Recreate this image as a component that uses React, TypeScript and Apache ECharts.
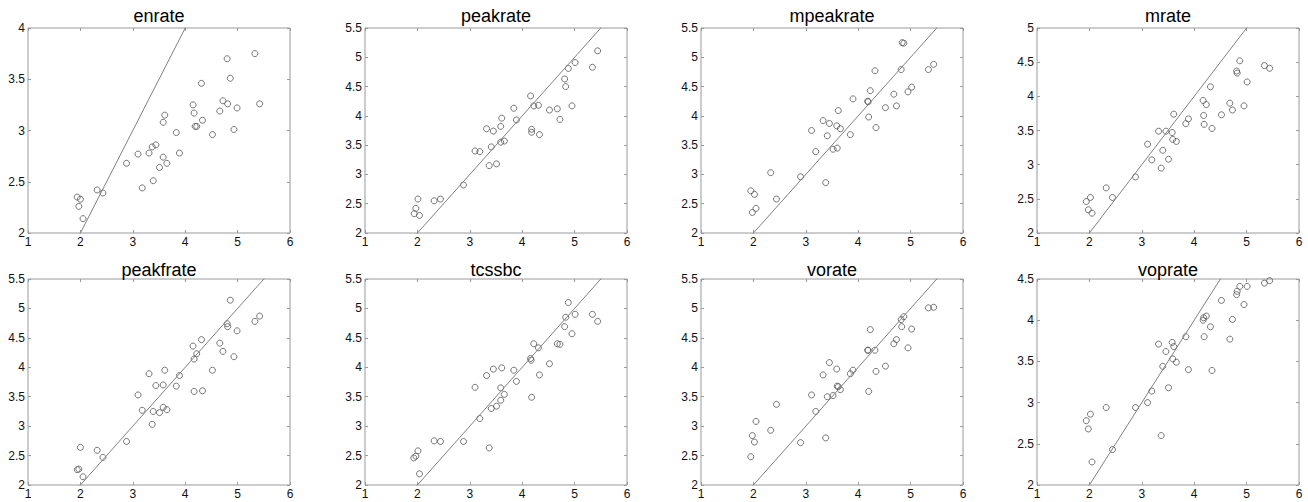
import React, { useEffect, useRef } from "react";
import * as echarts from "echarts";

const panelTitles = ["enrate", "peakrate", "mpeakrate", "mrate", "peakfrate", "tcssbc", "vorate", "voprate"];
const yMaxima = [4, 5.5, 5.5, 5, 5.5, 5.5, 5.5, 4.5];
const xTickRange = [1, 6];
const yMin = 2;
const identityLine = [[1, 1], [6, 6]];

const enrate = [[1.94,2.35],[2.0,2.33],[1.97,2.26],[2.05,2.14],[2.32,2.42],[2.43,2.39],[2.88,2.68],[3.10,2.77],[3.18,2.44],[3.31,2.78],[3.37,2.84],[3.44,2.86],[3.39,2.51],[3.51,2.64],[3.58,2.74],[3.65,2.68],[3.58,3.08],[3.61,3.15],[3.83,2.98],[3.89,2.78],[4.15,3.25],[4.17,3.17],[4.19,3.04],[4.22,3.04],[4.31,3.46],[4.33,3.10],[4.52,2.96],[4.66,3.19],[4.72,3.29],[4.80,3.70],[4.81,3.26],[4.86,3.51],[4.93,3.01],[4.99,3.22],[5.33,3.75],[5.42,3.26]];
const peakrate = [[1.94,2.33],[1.97,2.42],[2.01,2.58],[2.04,2.30],[2.32,2.55],[2.44,2.58],[2.88,2.82],[3.10,3.40],[3.19,3.39],[3.32,3.78],[3.37,3.15],[3.41,3.47],[3.45,3.74],[3.51,3.18],[3.59,3.82],[3.59,3.55],[3.61,3.96],[3.66,3.57],[3.84,4.13],[3.89,3.93],[4.16,4.34],[4.18,3.77],[4.18,3.72],[4.22,4.17],[4.31,4.18],[4.33,3.68],[4.52,4.10],[4.67,4.12],[4.72,3.94],[4.81,4.63],[4.83,4.50],[4.88,4.81],[4.95,4.17],[5.01,4.91],[5.34,4.83],[5.44,5.11]];
const mpeakrate = [[1.95,2.72],[2.02,2.66],[1.98,2.35],[2.05,2.42],[2.33,3.03],[2.44,2.58],[2.90,2.96],[3.11,3.75],[3.19,3.39],[3.33,3.92],[3.38,2.86],[3.41,3.66],[3.45,3.87],[3.52,3.43],[3.59,3.83],[3.60,3.45],[3.62,4.09],[3.66,3.78],[3.85,3.68],[3.90,4.29],[4.18,4.25],[4.19,4.24],[4.20,3.98],[4.23,4.43],[4.32,4.77],[4.34,3.80],[4.52,4.14],[4.68,4.37],[4.73,4.17],[4.82,4.79],[4.84,5.25],[4.87,5.24],[4.95,4.41],[5.02,4.49],[5.34,4.79],[5.44,4.88]];
const mrate = [[1.94,2.46],[2.02,2.52],[1.98,2.34],[2.05,2.29],[2.32,2.66],[2.44,2.52],[2.88,2.82],[3.11,3.30],[3.19,3.07],[3.32,3.49],[3.37,2.95],[3.40,3.21],[3.46,3.49],[3.51,3.08],[3.58,3.47],[3.59,3.37],[3.61,3.74],[3.66,3.34],[3.84,3.60],[3.89,3.67],[4.17,3.94],[4.18,3.72],[4.19,3.59],[4.23,3.88],[4.31,4.14],[4.34,3.53],[4.52,3.73],[4.68,3.90],[4.73,3.80],[4.81,4.37],[4.82,4.34],[4.87,4.52],[4.95,3.86],[5.01,4.21],[5.34,4.45],[5.44,4.41]];
const peakfrate = [[1.94,2.26],[1.97,2.27],[2.0,2.64],[2.05,2.14],[2.32,2.59],[2.43,2.47],[2.88,2.74],[3.10,3.53],[3.18,3.27],[3.31,3.89],[3.37,3.03],[3.39,3.25],[3.44,3.69],[3.51,3.23],[3.58,3.32],[3.58,3.70],[3.61,3.95],[3.65,3.28],[3.83,3.68],[3.89,3.86],[4.15,4.36],[4.17,4.14],[4.17,3.59],[4.22,4.23],[4.31,4.47],[4.33,3.60],[4.52,3.95],[4.66,4.41],[4.72,4.27],[4.80,4.74],[4.81,4.69],[4.86,5.14],[4.93,4.18],[4.99,4.62],[5.33,4.78],[5.42,4.87]];
const tcssbc = [[1.93,2.46],[1.97,2.49],[2.01,2.58],[2.04,2.19],[2.32,2.75],[2.44,2.74],[2.88,2.74],[3.10,3.66],[3.19,3.13],[3.32,3.86],[3.37,2.63],[3.41,3.30],[3.45,3.97],[3.51,3.34],[3.59,3.65],[3.59,3.44],[3.61,3.99],[3.66,3.54],[3.84,3.95],[3.89,3.76],[4.16,4.15],[4.17,4.12],[4.18,3.49],[4.22,4.40],[4.31,4.33],[4.33,3.87],[4.52,4.06],[4.67,4.40],[4.72,4.39],[4.81,4.69],[4.83,4.85],[4.88,5.10],[4.95,4.57],[5.01,4.90],[5.34,4.90],[5.44,4.78]];
const vorate = [[1.95,2.48],[1.98,2.84],[2.02,2.73],[2.05,3.08],[2.33,2.93],[2.44,3.37],[2.90,2.72],[3.11,3.53],[3.19,3.25],[3.33,3.87],[3.38,2.80],[3.41,3.50],[3.45,4.08],[3.52,3.52],[3.59,3.97],[3.60,3.68],[3.62,3.67],[3.66,3.62],[3.85,3.89],[3.90,3.95],[4.18,4.29],[4.19,4.29],[4.20,3.59],[4.23,4.64],[4.32,4.29],[4.34,3.93],[4.52,4.02],[4.68,4.40],[4.73,4.47],[4.82,4.81],[4.83,4.69],[4.87,4.86],[4.95,4.33],[5.02,4.65],[5.34,5.01],[5.44,5.02]];
const voprate = [[1.94,2.78],[2.02,2.86],[1.98,2.68],[2.05,2.28],[2.32,2.94],[2.44,2.43],[2.88,2.94],[3.11,3.00],[3.19,3.14],[3.32,3.71],[3.37,2.60],[3.40,3.44],[3.46,3.62],[3.51,3.18],[3.58,3.73],[3.59,3.53],[3.61,3.68],[3.66,3.49],[3.84,3.80],[3.89,3.40],[4.17,4.00],[4.18,4.03],[4.19,3.80],[4.23,4.05],[4.31,3.92],[4.34,3.39],[4.52,4.24],[4.68,3.77],[4.73,4.01],[4.81,4.31],[4.82,4.35],[4.87,4.41],[4.95,4.19],[5.01,4.41],[5.34,4.45],[5.44,4.48]];

const panelData = [enrate, peakrate, mpeakrate, mrate, peakfrate, tcssbc, vorate, voprate];

const FONT = "'Liberation Sans', Arial, sans-serif";
const colLefts = [28, 365, 701, 1037];
const rowTops = [28, 279];
const gridW = 262;
const rowHeights = [205, 206];
const titleY = [16, 270];

export default function App() {
  const ref = useRef<HTMLDivElement>(null);
  useEffect(() => {
    if (!ref.current) return;
    const chart = echarts.init(ref.current, undefined, { renderer: "svg" });
    const grids: any[] = [];
    const xAxes: any[] = [];
    const yAxes: any[] = [];
    const series: any[] = [];
    const graphics: any[] = [];
    const boxColor = "#9a9a9a";
    const labelStyle = { color: "#111", fontSize: 12, fontFamily: FONT };
    panelTitles.forEach((title, i) => {
      const r = Math.floor(i / 4);
      const c = i % 4;
      grids.push({
        left: colLefts[c],
        top: rowTops[r],
        width: gridW,
        height: rowHeights[r],
        show: true,
        borderColor: boxColor,
        borderWidth: 1,
        backgroundColor: "transparent",
        containLabel: false,
      });
      const baseX = {
        type: "value",
        gridIndex: i,
        min: xTickRange[0],
        max: xTickRange[1],
        interval: 1,
        splitLine: { show: false },
        axisLine: { show: false },
        axisTick: { show: true, inside: true, length: 3, lineStyle: { color: boxColor } },
      };
      xAxes.push({ ...baseX, position: "bottom", axisLabel: { ...labelStyle, margin: 3 } });
      xAxes.push({ ...baseX, position: "top", axisLabel: { show: false } });
      const baseY = {
        type: "value",
        gridIndex: i,
        min: yMin,
        max: yMaxima[i],
        interval: 0.5,
        splitLine: { show: false },
        axisLine: { show: false },
        axisTick: { show: true, inside: true, length: 3, lineStyle: { color: boxColor } },
      };
      yAxes.push({ ...baseY, position: "left", axisLabel: { ...labelStyle, margin: 3 } });
      yAxes.push({ ...baseY, position: "right", axisLabel: { show: false } });
      series.push({
        type: "line",
        xAxisIndex: i * 2,
        yAxisIndex: i * 2,
        data: identityLine,
        symbol: "none",
        clip: true,
        lineStyle: { color: "#808080", width: 1 },
        silent: true,
      });
      series.push({
        type: "scatter",
        xAxisIndex: i * 2,
        yAxisIndex: i * 2,
        data: panelData[i],
        symbol: "circle",
        symbolSize: 6,
        itemStyle: { color: "transparent", borderColor: "#555", borderWidth: 1 },
      });
      graphics.push({
        type: "text",
        x: colLefts[c] + gridW / 2,
        y: titleY[r],
        style: {
          text: title,
          fill: "#000",
          font: `18px ${FONT}`,
          textAlign: "center",
          textVerticalAlign: "middle",
        },
      });
    });
    chart.setOption({
      animation: false,
      backgroundColor: "#fff",
      grid: grids,
      xAxis: xAxes,
      yAxis: yAxes,
      series,
      graphic: graphics,
    });
    return () => chart.dispose();
  }, []);
  return (
    <div
      ref={ref}
      style={{ position: "fixed", left: 0, top: 0, width: 1308, height: 502 }}
    />
  );
}
